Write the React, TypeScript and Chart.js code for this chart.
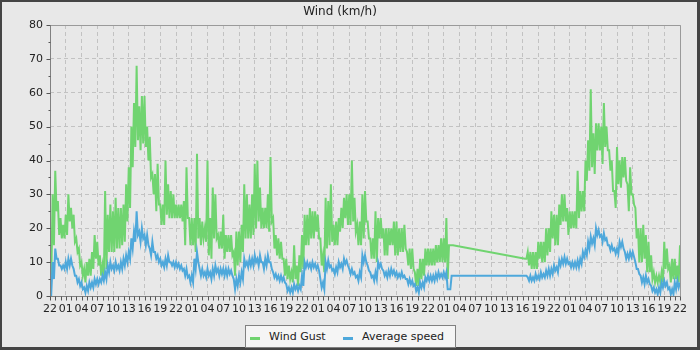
import React, { useEffect, useRef } from 'react';
import { Chart, registerables } from 'chart.js';

Chart.register(...registerables);

// Tick labels along the time axis (one every 3 hours, starting at 22:00)
const X_TICK_LABELS = [
  '22', '01', '04', '07', '10', '13', '16', '19',
  '22', '01', '04', '07', '10', '13', '16', '19',
  '22', '01', '04', '07', '10', '13', '16', '19',
  '22', '01', '04', '07', '10', '13', '16', '19',
  '22', '01', '04', '07', '10', '13', '16', '19',
  '22',
];
const Y_TICK_LABELS = ['0', '10', '20', '30', '40', '50', '60', '70', '80'];

// Each half-hour slot holds the high and the low reading seen in that slot.
// Two recorded stretches, with a gap in the record between them.
const STEP_H = 0.5;
const SEG1_START_H = 0;
const SEG2_START_H = 90.5;

const GUST_HI_SEG1 = [
  14, 30, 37, 28, 23, 21, 24, 30, 26, 24,
  17, 14, 10, 8, 10, 11, 13, 18, 16, 12,
  9, 31, 24, 27, 25, 29, 26, 26, 27, 33,
  38, 50, 57, 68, 56, 59, 59, 50, 47, 36,
  36, 39, 27, 27, 40, 33, 31, 30, 27, 27,
  27, 28, 38, 23, 23, 23, 42, 23, 22, 20,
  40, 23, 32, 30, 18, 19, 24, 18, 18, 18,
  13, 19, 19, 21, 33, 30, 27, 30, 39, 40,
  32, 26, 26, 30, 41, 23, 18, 17, 16, 11,
  11, 9, 7, 15, 9, 12, 18, 24, 24, 26,
  25, 25, 24, 17, 12, 29, 28, 33, 21, 22,
  23, 26, 29, 30, 30, 40, 29, 21, 22, 30,
  31, 22, 17, 17, 25, 23, 23, 20, 20, 20,
  20, 22, 22, 20, 20, 21, 13, 14, 14, 7,
  8, 11, 11, 14, 14, 14, 14, 15, 15, 17,
  17, 23, 15, 15,
];
const GUST_LO_SEG1 = [
  6, 15, 25, 18, 17, 17, 18, 22, 20, 16,
  13, 9, 6, 4, 6, 6, 8, 11, 9, 6,
  5, 8, 13, 13, 13, 14, 14, 15, 16, 22,
  26, 38, 44, 46, 43, 45, 44, 40, 35, 30,
  25, 27, 21, 21, 24, 23, 23, 23, 23, 23,
  22, 15, 23, 15, 15, 13, 17, 15, 17, 16,
  12, 11, 17, 17, 14, 14, 11, 13, 13, 12,
  6, 9, 10, 13, 17, 17, 17, 18, 20, 22,
  20, 20, 20, 19, 22, 14, 12, 11, 11, 6,
  5, 5, 4, 5, 3, 7, 8, 15, 15, 17,
  17, 19, 17, 9, 7, 14, 15, 16, 15, 15,
  19, 20, 23, 21, 21, 22, 19, 15, 15, 17,
  22, 17, 11, 11, 10, 17, 17, 12, 12, 15,
  15, 12, 12, 13, 13, 14, 9, 8, 8, 3,
  3, 5, 6, 9, 9, 9, 9, 10, 10, 10,
  10, 5, 15, 15,
];
const GUST_HI_SEG2 = [
  11, 13, 13, 13, 13, 16, 16, 16, 20, 20,
  25, 24, 24, 27, 30, 30, 26, 25, 25, 25,
  37, 31, 31, 40, 46, 61, 48, 51, 51, 50,
  57, 50, 43, 40, 31, 44, 40, 41, 41, 33,
  38, 30, 26, 20, 20, 21, 18, 16, 12, 7,
  6, 6, 7, 16, 14, 9, 11, 11, 9, 15,
];
const GUST_LO_SEG2 = [
  11, 9, 8, 8, 8, 11, 10, 10, 12, 13,
  17, 15, 15, 21, 22, 22, 18, 20, 20, 20,
  23, 25, 25, 34, 37, 38, 36, 43, 43, 39,
  44, 43, 37, 31, 26, 33, 32, 35, 34, 25,
  30, 27, 17, 10, 10, 11, 7, 7, 5, 4,
  4, 4, 4, 8, 8, 4, 5, 5, 4, 6,
];

const AVG_HI_SEG1 = [
  3, 10, 14, 11, 9, 9, 10, 11, 11, 8,
  6, 5, 4, 2.5, 3, 4, 4, 5, 5, 5,
  6, 7, 9, 10, 9, 10, 9, 10, 11, 12,
  13, 17, 19, 25, 19, 20, 18, 18, 14, 16,
  13, 12, 11, 10, 11, 12, 10, 10, 10, 9.5,
  9, 8, 8, 6, 6, 11, 13, 8, 8, 7,
  8, 7, 8, 9, 8, 8, 8, 8, 8, 7.5,
  5, 5, 6, 7, 11, 10, 11, 11, 12, 11,
  12, 10, 11, 12, 10, 7, 6.5, 6, 6, 5.5,
  3.5, 2.5, 2.5, 3.5, 3, 3, 6, 10, 10, 9.5,
  10, 9.5, 9, 5, 4, 10, 10.5, 9, 8, 8.5,
  10, 9.5, 11, 10.5, 8, 8, 7, 6, 7, 12,
  12, 9, 7, 6, 7, 10, 9.5, 7.5, 7, 7.5,
  8, 7.5, 7, 6.5, 7, 6, 5, 5, 4.5, 3.5,
  2.5, 4, 4, 5.5, 6, 6, 6, 6.5, 7, 6.5,
  7, 7, 2, 6,
];
const AVG_LO_SEG1 = [
  1, 5, 11, 9, 8, 8, 8, 9, 9, 6,
  4, 3, 2, 1, 1.5, 2.5, 2.5, 3.5, 3.5, 4,
  4.5, 5, 7, 8, 7.5, 8, 7.5, 8, 9, 10,
  11, 14, 16, 18, 16, 17, 15, 15, 12, 13,
  11, 10, 9, 8.5, 9, 10, 9, 8.5, 8.5, 8,
  7.5, 6, 5.5, 4, 4, 8, 10, 6, 6, 5.5,
  6, 5, 6, 7, 6, 6.5, 6, 6, 6.5, 6,
  2, 3, 4, 5, 9, 8.5, 9, 9, 10, 9,
  10, 8, 9, 10, 8, 5.5, 5, 4.5, 4.5, 4,
  1.5, 1, 1, 2, 1.5, 2, 3, 8.5, 8.5, 8,
  8.5, 8, 7.5, 2.5, 2, 8, 8.5, 7.5, 6.5, 7,
  8.5, 8, 9.5, 9, 6.5, 6.5, 5.5, 4.5, 5.5, 10,
  10, 7.5, 5.5, 4.5, 5, 8.5, 8, 6, 5.5, 6,
  6.5, 6, 5.5, 5.5, 5.5, 5, 3.5, 3.5, 3, 1.5,
  1, 2.5, 2.5, 4.5, 4.5, 4.5, 4.5, 5, 5.5, 5.5,
  5.5, 2, 2, 6,
];
const AVG_HI_SEG2 = [
  6, 5.5, 6, 5.5, 6.5, 6, 7, 6.5, 7.5, 8,
  8, 9, 8.5, 10.5, 11, 11.5, 11, 10, 10, 10,
  10.5, 11, 13, 13.5, 16, 17.5, 17, 20, 19.5, 18,
  18.5, 17, 15, 15, 14, 14, 16, 16, 13, 12.5,
  13, 13, 10, 8, 6, 5.5, 6, 5, 3, 2.5,
  2, 2.5, 4, 4.5, 4, 2.5, 2, 4, 4.5, 4,
];
const AVG_LO_SEG2 = [
  6, 4.5, 4.5, 4.5, 5, 5, 5.5, 5.5, 6, 6,
  6.5, 7.5, 7, 9, 9.5, 9.5, 9.5, 8.5, 8.5, 8.5,
  8.5, 9.5, 11.5, 12, 14, 15.5, 15, 18, 17.5, 16,
  16.5, 15, 13.5, 13.5, 12.5, 12.5, 14.5, 14, 11, 11,
  11.5, 11.5, 8, 6.5, 4, 3.5, 4, 3.5, 1.5, 1,
  0.5, 1, 2.5, 3, 2, 0.5, 0.5, 2, 2.5, 2,
];

const GUST_COLOR = '#70d470';
const AVG_COLOR = '#4ea8db';
const FONT = 'DejaVu Sans';

function toPoints(start: number, hi: number[], lo: number[]) {
  const pts: { x: number; y: number }[] = [];
  hi.forEach((h, i) => {
    const t = start + i * STEP_H;
    pts.push({ x: t, y: h });
    pts.push({ x: t + STEP_H / 2, y: lo[i] });
  });
  return pts;
}

const framePlugin = {
  id: 'frame',
  beforeDraw(chart: any) {
    const { ctx, width, height } = chart;
    ctx.save();
    ctx.fillStyle = '#444444';
    ctx.fillRect(0, 0, width, height);
    ctx.fillStyle = '#e8e8e8';
    ctx.fillRect(2, 2, width - 5, height - 5);
    ctx.restore();
  },
  afterDraw(chart: any) {
    const { ctx, chartArea } = chart;
    const { left, right, top, bottom } = chartArea;
    const L = Math.round(left) + 0.5;
    const R = Math.round(right) + 0.5;
    const T = Math.round(top) + 0.5;
    const B = Math.round(bottom) + 0.5;
    ctx.save();
    ctx.lineWidth = 1;
    ctx.strokeStyle = '#9a9a9a';
    ctx.beginPath();
    ctx.moveTo(L, T);
    ctx.lineTo(R, T);
    ctx.lineTo(R, B);
    ctx.stroke();
    ctx.strokeStyle = '#808080';
    ctx.beginPath();
    ctx.moveTo(L, T);
    ctx.lineTo(L, B);
    ctx.lineTo(R, B);
    ctx.stroke();
    ctx.strokeStyle = '#555555';
    const xs = chart.scales.x;
    xs.ticks.forEach((t: any) => {
      const px = Math.round(xs.getPixelForValue(t.value)) + 0.5;
      ctx.beginPath();
      ctx.moveTo(px, B);
      ctx.lineTo(px, B + 4);
      ctx.stroke();
    });
    const ys = chart.scales.y;
    ys.ticks.forEach((t: any) => {
      const py = Math.round(ys.getPixelForValue(t.value)) + 0.5;
      const len = t.value % 10 === 0 ? 4 : 2;
      ctx.beginPath();
      ctx.moveTo(L - len, py);
      ctx.lineTo(L, py);
      ctx.stroke();
    });
    ctx.restore();
  },
};

export default function App() {
  const canvasRef = useRef<HTMLCanvasElement | null>(null);

  useEffect(() => {
    if (!canvasRef.current) return;
    const chart = new Chart(canvasRef.current, {
      type: 'line',
      data: {
        datasets: [
          {
            label: 'Wind Gust',
            data: [
              ...toPoints(SEG1_START_H, GUST_HI_SEG1, GUST_LO_SEG1),
              ...toPoints(SEG2_START_H, GUST_HI_SEG2, GUST_LO_SEG2),
            ],
            borderColor: GUST_COLOR,
            backgroundColor: GUST_COLOR,
            borderWidth: 2,
            pointRadius: 0,
            tension: 0,
            fill: false,
            order: 1,
          },
          {
            label: 'Average speed',
            data: [
              ...toPoints(SEG1_START_H, AVG_HI_SEG1, AVG_LO_SEG1),
              ...toPoints(SEG2_START_H, AVG_HI_SEG2, AVG_LO_SEG2),
            ],
            borderColor: AVG_COLOR,
            backgroundColor: AVG_COLOR,
            borderWidth: 2,
            pointRadius: 0,
            tension: 0,
            fill: false,
            order: 0,
          },
        ],
      },
      options: {
        animation: false,
        responsive: false,
        devicePixelRatio: 1,
        layout: { padding: { left: 0, right: 20, top: 0, bottom: 32 } },
        plugins: {
          legend: { display: false },
          tooltip: { enabled: false },
          title: {
            display: true,
            text: 'Wind (km/h)',
            color: '#222222',
            font: { family: FONT, size: 12, weight: 'normal' },
            padding: { top: 5, bottom: 5.6 },
          },
        },
        scales: {
          x: {
            type: 'linear',
            min: 0,
            max: 120,
            afterFit: (scale: any) => {
              scale.height = 22;
            },
            ticks: {
              stepSize: 1,
              maxTicksLimit: 500,
              autoSkip: false,
              maxRotation: 0,
              minRotation: 0,
              padding: 7,
              color: '#222222',
              font: { family: FONT, size: 11 },
              callback: (value: any) => {
                const v = Number(value);
                return v % 3 === 0 ? X_TICK_LABELS[v / 3] ?? '' : '';
              },
            },
            grid: {
              drawTicks: false,
              lineWidth: 1,
              color: (ctx: any) =>
                ctx.tick && ctx.tick.value % 3 === 0 ? '#c2c2c2' : 'rgba(0,0,0,0)',
            },
            border: { display: false, dash: [4, 3] },
          },
          y: {
            min: 0,
            max: 80,
            afterFit: (scale: any) => {
              scale.width = 50;
            },
            ticks: {
              stepSize: 5,
              padding: 7,
              color: '#222222',
              font: { family: FONT, size: 11 },
              callback: (value: any) => {
                const v = Number(value);
                return v % 10 === 0 ? Y_TICK_LABELS[v / 10] ?? '' : '';
              },
            },
            grid: {
              drawTicks: false,
              lineWidth: 1,
              color: (ctx: any) =>
                ctx.tick && ctx.tick.value % 10 === 0 ? '#c2c2c2' : 'rgba(0,0,0,0)',
            },
            border: { display: false, dash: [4, 3] },
          },
        },
      },
      plugins: [framePlugin],
    });
    return () => chart.destroy();
  }, []);

  const legendText: React.CSSProperties = {
    position: 'absolute',
    top: 4,
    fontFamily: FONT,
    fontSize: 11,
    lineHeight: '13px',
    color: '#222222',
    whiteSpace: 'nowrap',
  };
  const legendLine: React.CSSProperties = {
    position: 'absolute',
    top: 11,
    width: 10,
    height: 3,
  };

  return (
    <div style={{ position: 'absolute', left: 0, top: 0, width: 700, height: 350 }}>
      <canvas ref={canvasRef} width={700} height={350} style={{ display: 'block', width: 700, height: 350 }} />
      <div
        style={{
          position: 'absolute',
          left: 245,
          top: 325,
          width: 211,
          height: 23,
          boxSizing: 'border-box',
          border: '1px solid #808080',
          background: '#f5f5f5',
        }}
      >
        <span style={{ ...legendLine, left: 4, background: GUST_COLOR }} />
        <span style={{ ...legendText, left: 23 }}>Wind Gust</span>
        <span style={{ ...legendLine, left: 97, background: AVG_COLOR }} />
        <span style={{ ...legendText, left: 116 }}>Average speed</span>
      </div>
    </div>
  );
}
